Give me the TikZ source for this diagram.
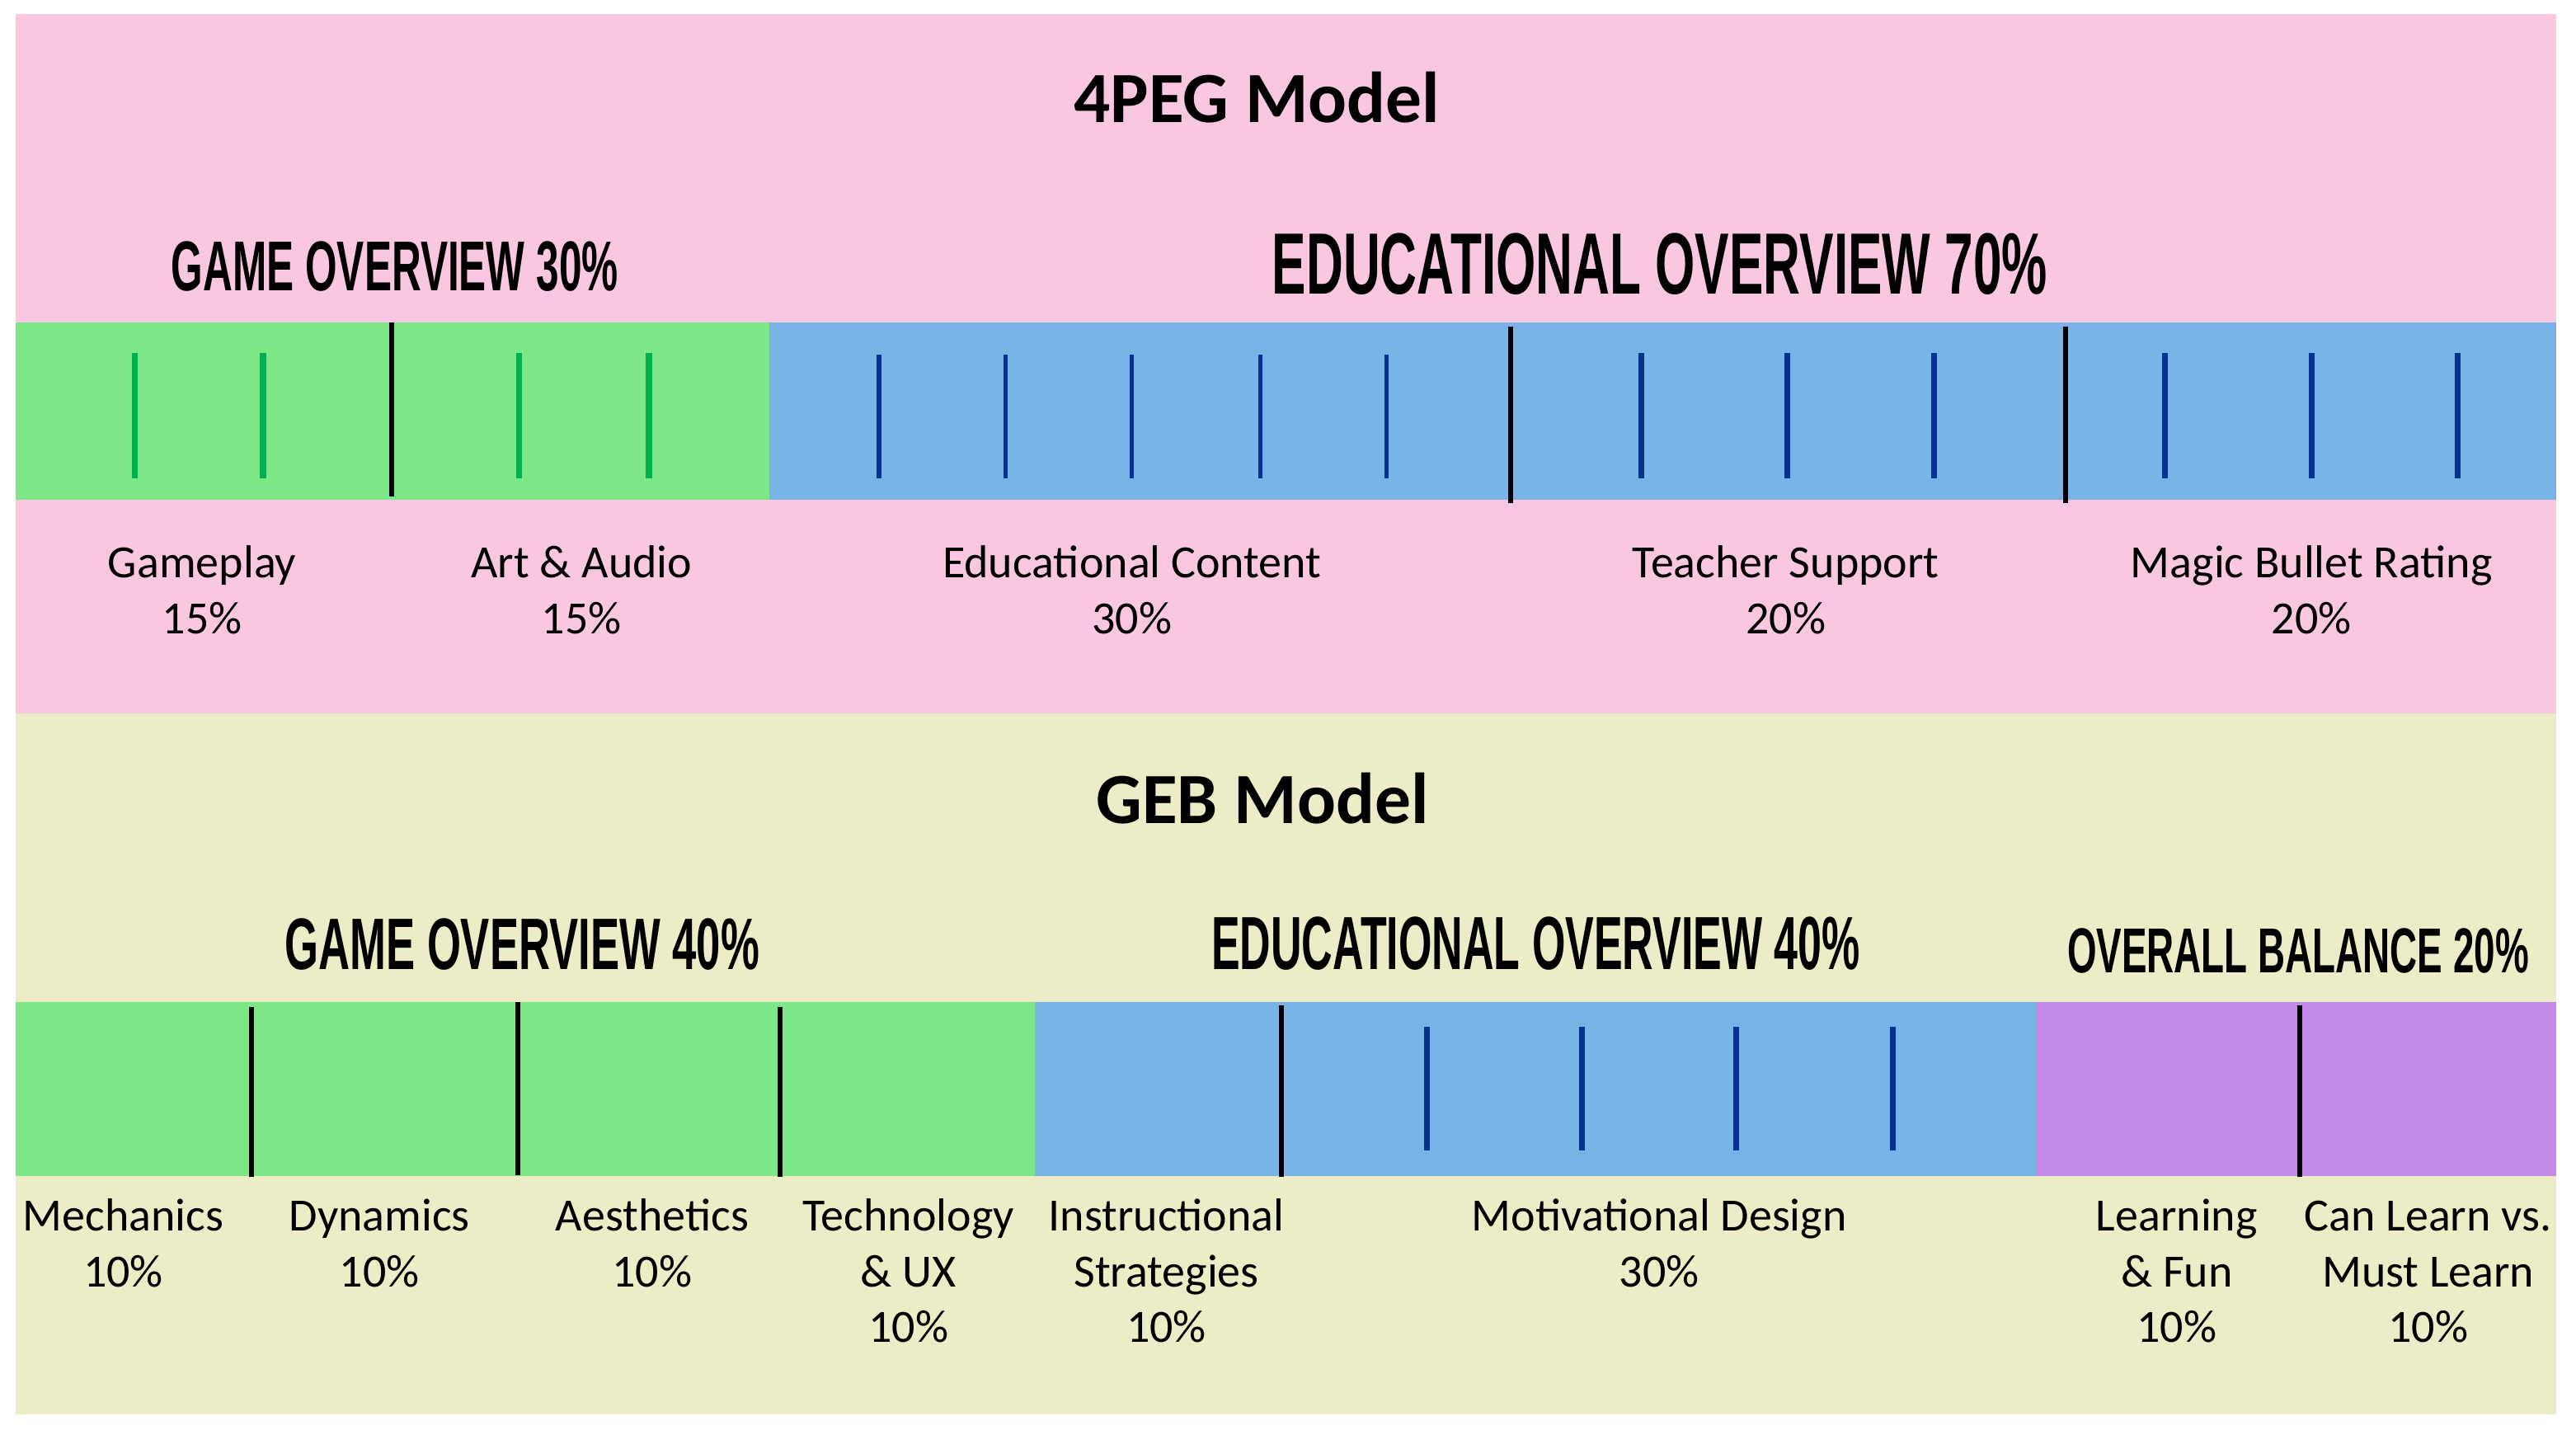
\documentclass[tikz,border=0pt]{standalone}
\usepackage{fontspec}
\setmainfont{Carlito}
\newfontfamily\condfont{Liberation Sans}
\definecolor{pinkbg}{HTML}{F9C8E0}
\definecolor{yellowbg}{HTML}{ECEDC7}
\definecolor{greenbar}{HTML}{7DE687}
\definecolor{bluebar}{HTML}{78B4E6}
\definecolor{purplebar}{HTML}{C48AE9}
\definecolor{greentick}{HTML}{00B050}
\definecolor{bluetick}{HTML}{06318F}
\newcommand\lbl[1]{\begin{tabular}[t]{@{}c@{}}#1\end{tabular}}
\newcommand\hdr[3]{\resizebox{#1}{#2}{\condfont\bfseries #3}}
\tikzset{
  lbltext/.style={anchor=base, inner sep=0pt, font=\fontsize{16}{19.35}\selectfont},
  title/.style={anchor=base, inner sep=0pt, font=\fontsize{25}{30}\selectfont\bfseries},
  cond/.style={anchor=base west, inner sep=0pt},
  divider/.style={black, line width=1.7pt},
  gtick/.style={greentick, line width=2.2pt},
  btick/.style={bluetick, line width=2pt},
  bthin/.style={bluetick, line width=1.5pt},
}
\begin{document}
\begin{tikzpicture}[x=0.02cm,y=-0.02cm]
\useasboundingbox (0,0) rectangle (1568,873);
\fill[white] (0,0) rectangle (1568,873);
% backgrounds
\fill[pinkbg] (9.5,8.5) rectangle (1556,434);
\fill[yellowbg] (9.5,434) rectangle (1556,861);
% 4PEG bar
\fill[greenbar] (9.5,196) rectangle (468.5,304);
\fill[bluebar] (468.5,196) rectangle (1556,304);
\foreach \x in {82,160,316,395} \draw[gtick] (\x,215) -- (\x,291);
\foreach \x in {535,612,689,767,844} \draw[bthin] (\x,216) -- (\x,291);
\foreach \x in {999,1088,1177,1318,1407,1496} \draw[btick] (\x,215) -- (\x,291);
\draw[divider] (238.5,196) -- (238.5,302);
\draw[divider] (919.5,199) -- (919.5,306);
\draw[divider] (1257.5,199) -- (1257.5,306);
% GEB bar
\fill[greenbar] (9.5,610) rectangle (630,715.5);
\fill[bluebar] (630,610) rectangle (1239,715.5);
\fill[purplebar] (1239,610) rectangle (1556,715.5);
\foreach \x in {868.5,963,1057,1152} \draw[btick] (\x,625) -- (\x,700);
\draw[divider] (153,613) -- (153,716);
\draw[divider] (315,610) -- (315,715);
\draw[divider] (475,613) -- (475,716);
\draw[divider] (780,612) -- (780,716);
\draw[divider] (1400,612) -- (1400,716);
% titles
\node[title] (t4peg) at (765,74.3) {4PEG Model};
\node[title] (tgeb) at (768.5,501) {GEB Model};
% condensed headers
\node[cond] (h1) at (104,177) {\hdr{5.44cm}{0.6cm}{GAME OVERVIEW 30\%}};
\node[cond] (h2) at (774,179) {\hdr{9.44cm}{0.74cm}{EDUCATIONAL OVERVIEW 70\%}};
\node[cond] (h3) at (173,590) {\hdr{5.78cm}{0.62cm}{GAME OVERVIEW 40\%}};
\node[cond] (h4) at (737,590) {\hdr{7.9cm}{0.64cm}{EDUCATIONAL OVERVIEW 40\%}};
\node[cond] (h5) at (1258,592) {\hdr{5.62cm}{0.54cm}{OVERALL BALANCE 20\%}};
% 4PEG labels
\node[lbltext] (l1) at (123,351.7) {\lbl{Gameplay\\15\%}};
\node[lbltext] (l2) at (354,351.7) {\lbl{Art \& Audio\\15\%}};
\node[lbltext] (l3) at (689,351.7) {\lbl{Educational Content\\30\%}};
\node[lbltext] (l4) at (1087,351.7) {\lbl{Teacher Support\\20\%}};
\node[lbltext] (l5) at (1407,351.7) {\lbl{Magic Bullet Rating\\20\%}};
% GEB labels
\node[lbltext] (g1) at (75,749) {\lbl{Mechanics\\10\%}};
\node[lbltext] (g2) at (231,749) {\lbl{Dynamics\\10\%}};
\node[lbltext] (g3) at (397,749) {\lbl{Aesthetics\\10\%}};
\node[lbltext] (g4) at (553,749) {\lbl{Technology\\\& UX\\10\%}};
\node[lbltext] (g5) at (710,749) {\lbl{Instructional\\Strategies\\10\%}};
\node[lbltext] (g6) at (1010,749) {\lbl{Motivational Design\\30\%}};
\node[lbltext] (g7) at (1325,749) {\lbl{Learning\\\& Fun\\10\%}};
\node[lbltext] (g8) at (1478,749) {\lbl{Can Learn vs.\\Must Learn\\10\%}};
\end{tikzpicture}
\end{document}
